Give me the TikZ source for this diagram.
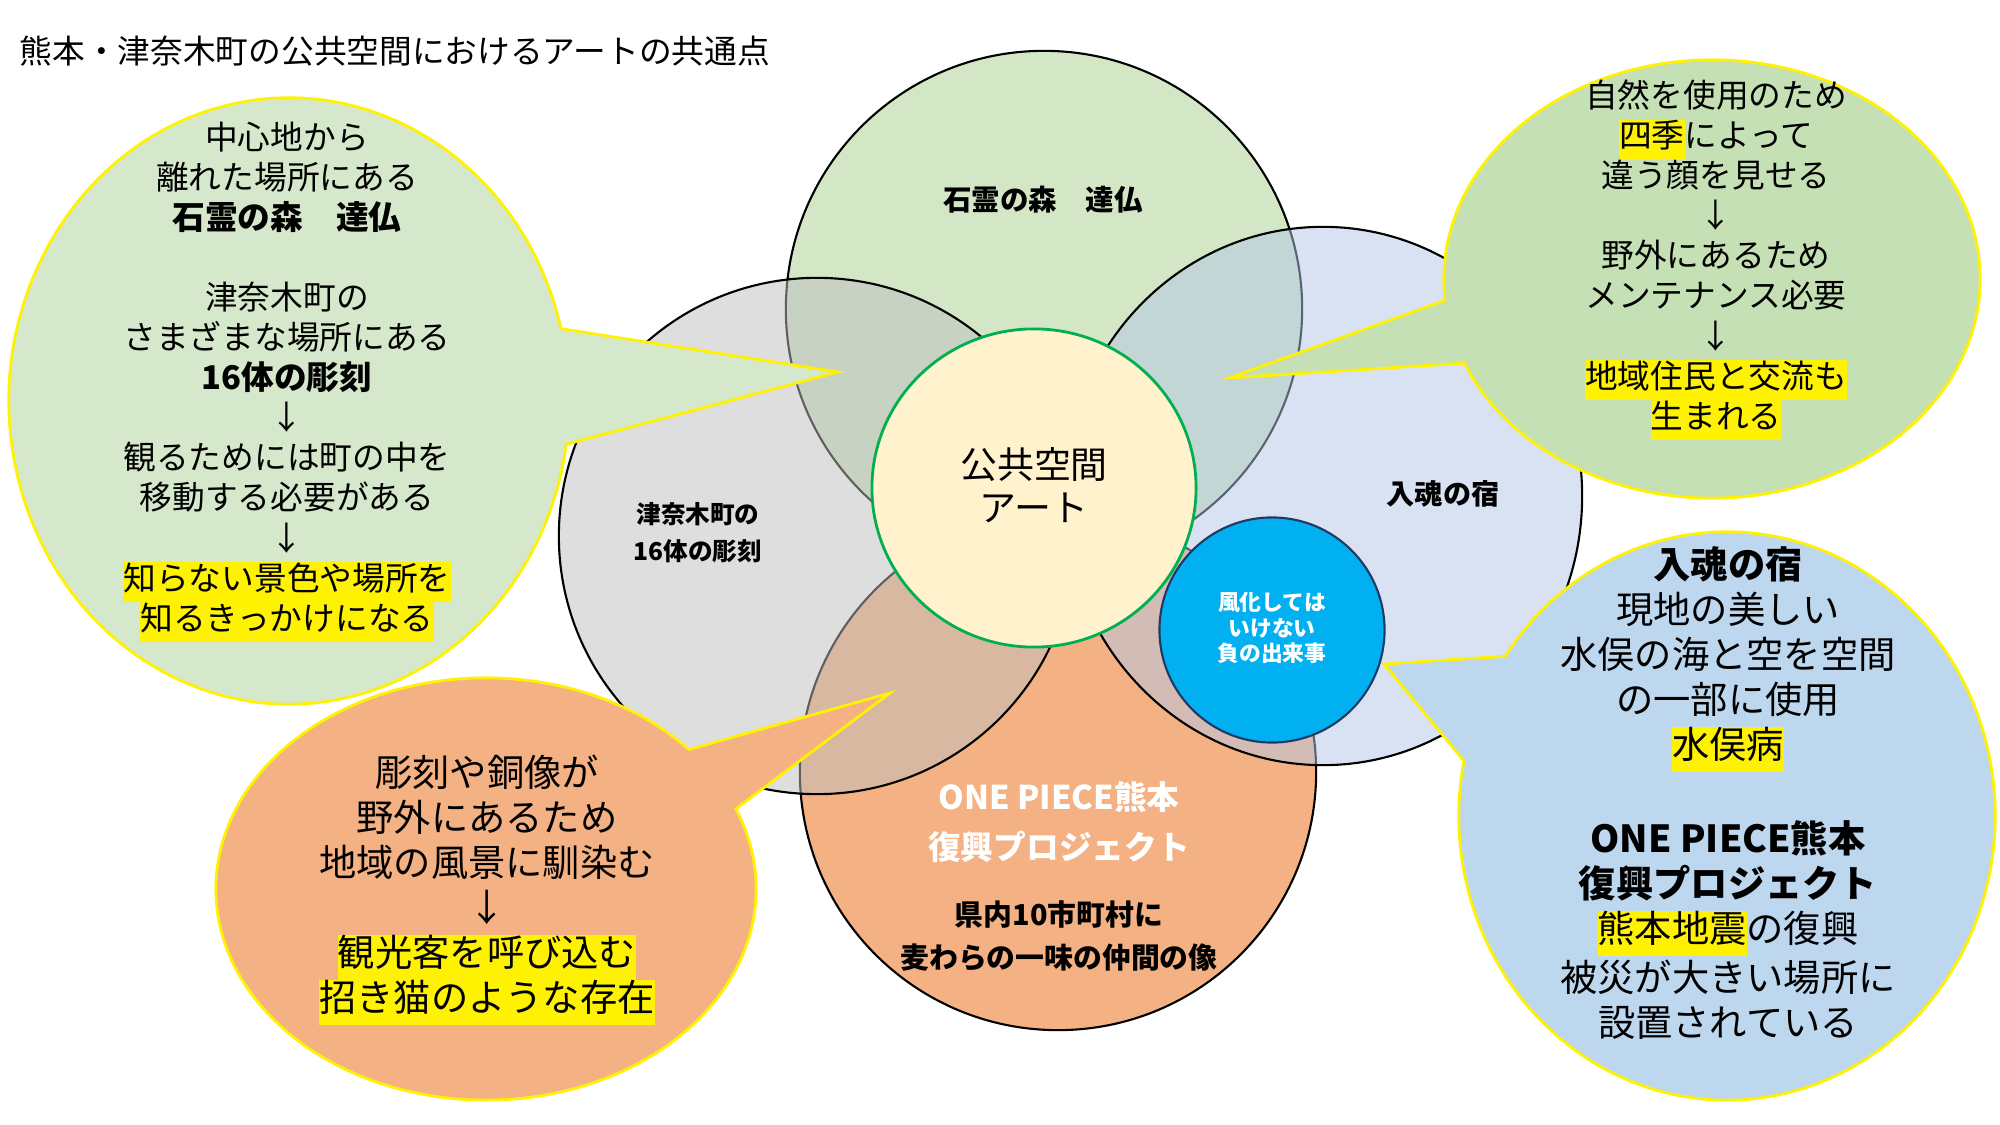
\documentclass[tikz,border=0pt]{standalone}
\usepackage{fontspec}
\setmainfont{Noto Sans CJK JP}
\usetikzlibrary{shapes.geometric, shapes.callouts}
\definecolor{ishigreen}{HTML}{A9D18E}
\definecolor{tsunagray}{HTML}{BFBFBF}
\definecolor{konblue}{HTML}{B4C7E7}
\definecolor{oporange}{HTML}{F4B183}
\definecolor{pubyellow}{HTML}{FFF2CC}
\definecolor{pubgreen}{HTML}{00B050}
\definecolor{fukablue}{HTML}{00B0F0}
\definecolor{fukanavy}{HTML}{1F3864}
\definecolor{bubgreen}{HTML}{D5E8CB}
\definecolor{bubgreenR}{HTML}{C5E0B4}
\definecolor{bubblue}{HTML}{BDD7EE}
\newcommand\hlt[1]{{\setlength{\fboxsep}{0pt}\colorbox{yellow}{\strut #1}}}
\tikzstyle{venn} = [circle, draw=black, line width=0.6pt, fill opacity=0.5, inner sep=0pt, minimum size=5.16cm]
\tikzstyle{bubble} = [ellipse callout, draw=yellow, line width=0.8pt, inner sep=0pt]
\tikzstyle{bubtext} = [align=center, inner sep=0pt]
\tikzstyle{circtext} = [align=center, inner sep=0pt]

\begin{document}
\begin{tikzpicture}[x=0.01cm, y=-0.01cm]
    \path[use as bounding box, fill=white] (0,0) rectangle (2000,1125);
    \node (title) [anchor=west, inner sep=0pt, font={\fontsize{9.3}{11}\selectfont}] at (19,51) {熊本・津奈木町の公共空間におけるアートの共通点};

    \node (ishi) [venn, fill=ishigreen] at (1044,309) {};
    \node (onepiece) [venn, fill=oporange, fill opacity=1] at (1058,772) {};
    \node (tsunagi) [venn, fill=tsunagray] at (817,536) {};
    \node (konpaku) [venn, ellipse, fill=konblue, minimum width=5.18cm, minimum height=5.38cm] at (1323,496) {};

    \node (ishiname) [circtext, font={\fontsize{8.1}{10}\selectfont\bfseries}] at (1043,200) {石霊の森　達仏};
    \node (tsunaginame) [circtext, font={\fontsize{7}{10.5}\selectfont\bfseries}] at (698,533) {津奈木町の\\16体の彫刻};
    \node (konpakuname) [circtext, font={\fontsize{8}{10}\selectfont\bfseries}] at (1443,494) {入魂の宿};
    \node (opname) [circtext, text=white, font={\fontsize{9.3}{14}\selectfont\bfseries}] at (1059,822) {ONE PIECE熊本\\復興プロジェクト};
    \node (opnote) [circtext, font={\fontsize{8.2}{12}\selectfont\bfseries}] at (1059,936) {県内10市町村に\\麦わらの一味の仲間の像};

    \node (public) [ellipse, draw=pubgreen, line width=0.8pt, fill=pubyellow, minimum width=3.24cm, minimum height=3.18cm, inner sep=0pt] at (1034,488) {};
    \node (publicname) [circtext, font={\fontsize{10.5}{12.2}\selectfont}] at (1034,485) {公共空間\\アート};
    \node (fuka) [circle, draw=fukanavy, line width=0.6pt, fill=fukablue, minimum size=2.25cm, inner sep=0pt] at (1272,630) {};
    \node (fukaname) [circtext, text=white, font={\fontsize{6.2}{7.3}\selectfont\bfseries}] at (1272,628) {風化しては\\いけない\\負の出来事};

    \coordinate (tipL) at (838,372);
    \coordinate (tipR) at (1229,378);
    \coordinate (tipO) at (890,693);
    \coordinate (tipB) at (1384,664);

    \node (bubL) [bubble, fill=bubgreen, minimum width=5.6cm, minimum height=6.06cm, callout absolute pointer={(tipL)}, callout pointer arc=22] at (289,401) {};
    \node (bubR) [bubble, fill=bubgreenR, minimum width=5.36cm, minimum height=4.38cm, callout absolute pointer={(tipR)}, callout pointer arc=17] at (1712,279) {};
    \node (bubO) [bubble, fill=oporange, minimum width=5.4cm, minimum height=4.22cm, callout absolute pointer={(tipO)}, callout pointer arc=19] at (486,889) {};
    \node (bubB) [bubble, fill=bubblue, minimum width=5.36cm, minimum height=5.68cm, callout absolute pointer={(tipB)}, callout pointer arc=23] at (1727,816) {};

    \node (bubLtext) [bubtext, font={\fontsize{9.3}{11.4}\selectfont}] at (287,382) {中心地から\\離れた場所にある\\\textbf{石霊の森　達仏}\\[11.4pt]津奈木町の\\さまざまな場所にある\\\textbf{16体の彫刻}\\↓\\観るためには町の中を\\移動する必要がある\\↓\\\hlt{知らない景色や場所を}\\\hlt{知るきっかけになる}};
    \node (bubRtext) [bubtext, font={\fontsize{9.3}{11.4}\selectfont}] at (1716,260) {自然を使用のため\\\hlt{四季}によって\\違う顔を見せる\\↓\\野外にあるため\\メンテナンス必要\\↓\\\hlt{地域住民と交流も}\\\hlt{生まれる}};
    \node (bubOtext) [bubtext, font={\fontsize{10.6}{12.8}\selectfont}] at (487,890) {彫刻や銅像が\\野外にあるため\\地域の風景に馴染む\\↓\\\hlt{観光客を呼び込む}\\\hlt{招き猫のような存在}};
    \node (bubBtext) [bubtext, font={\fontsize{10.6}{12.8}\selectfont}] at (1728,793) {\textbf{入魂の宿}\\現地の美しい\\水俣の海と空を空間\\の一部に使用\\\hlt{水俣病}\\[12.8pt]\textbf{ONE PIECE熊本}\\\textbf{復興プロジェクト}\\\hlt{熊本地震}の復興\\被災が大きい場所に\\設置されている};
\end{tikzpicture}
\end{document}
